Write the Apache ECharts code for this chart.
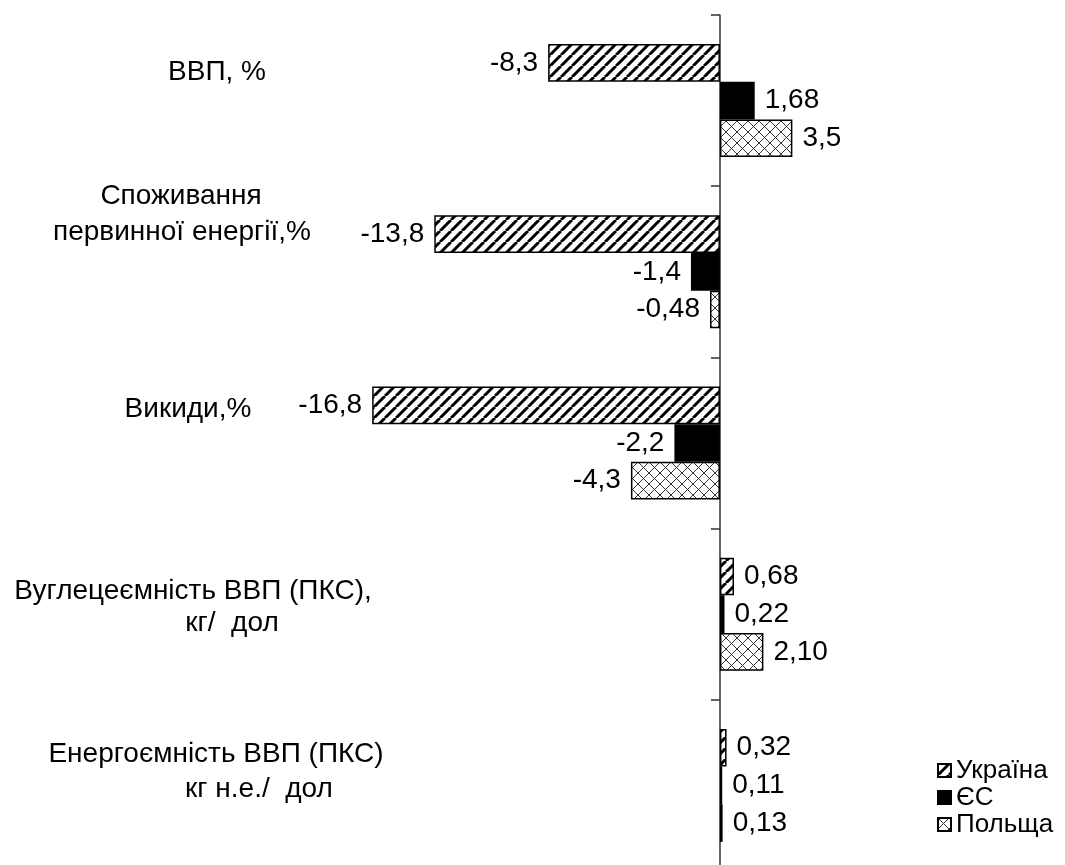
<!DOCTYPE html>
<html>
<head>
<meta charset="utf-8">
<script src="https://cdn.jsdelivr.net/npm/echarts@6/dist/echarts.min.js"></script>
<style>
  html, body { margin: 0; padding: 0; background: #fff; }
  #chart { width: 1065px; height: 865px; }
</style>
</head>
<body>
<div id="chart"></div>
<script>
// Indicator groups (top to bottom) and the three compared economies
const categories = [
  'ВВП, %',
  'Споживання\nпервинної енергії,%',
  'Викиди,%',
  'Вуглецеємність ВВП (ПКС),\nкг/  дол',
  'Енергоємність ВВП (ПКС)\nкг н.е./  дол'
];
const seriesNames = ['Україна', 'ЄС', 'Польща'];

// Values as printed on the bars (decimal comma)
const ukraineValues = ['-8,3', '-13,8', '-16,8', '0,68', '0,32'];
const euValues      = ['1,68', '-1,4', '-2,2', '0,22', '0,11'];
const polandValues  = ['3,5', '-0,48', '-4,3', '2,10', '0,13'];

const FONT = "'Liberation Sans', Arial, sans-serif";
const toNumber = s => parseFloat(s.replace(',', '.'));

// Category caption placement: horizontal shift of each line, upward lift, line height
const captionLineShift = [[17], [-19, -18], [-12], [-7, 32], [16, 59]];
const captionLift = [28, 58, 34, 7, 14];
const captionLineHeight = [34, 36, 34, 32, 35];

// Fill patterns
function stripePattern(period, width, color) {
  const c = document.createElement('canvas');
  c.width = c.height = period;
  const ctx = c.getContext('2d');
  ctx.fillStyle = '#fff';
  ctx.fillRect(0, 0, period, period);
  ctx.strokeStyle = color;
  ctx.lineWidth = width;
  ctx.beginPath();
  for (let k = -1; k <= 1; k++) {
    ctx.moveTo(k * period, period);
    ctx.lineTo(k * period + period, 0);
  }
  ctx.stroke();
  return { image: c, repeat: 'repeat' };
}
function crossPattern(period, width, color) {
  const c = document.createElement('canvas');
  c.width = c.height = period;
  const ctx = c.getContext('2d');
  ctx.fillStyle = '#fff';
  ctx.fillRect(0, 0, period, period);
  ctx.strokeStyle = color;
  ctx.lineWidth = width;
  ctx.beginPath();
  for (let k = -1; k <= 1; k++) {
    ctx.moveTo(k * period, period);
    ctx.lineTo(k * period + period, 0);
    ctx.moveTo(k * period, 0);
    ctx.lineTo(k * period + period, period);
  }
  ctx.stroke();
  return { image: c, repeat: 'repeat' };
}

const labelSets = [ukraineValues, euValues, polandValues];
const fills = [stripePattern(11, 3, '#000'), '#000', crossPattern(11, 1, '#333')];

function barData(labels) {
  return labels.map(s => {
    const v = toNumber(s);
    return { value: v, label: { position: v < 0 ? 'left' : 'right' } };
  });
}

const captionRich = {};
categories.forEach((cat, i) => {
  cat.split('\n').forEach((line, j) => {
    const dx = captionLineShift[i][j] || 0;
    captionRich['c' + i + 'l' + j] = {
      fontSize: 28,
      fontFamily: FONT,
      color: '#000',
      lineHeight: captionLineHeight[i],
      padding: dx >= 0 ? [0, 0, 0, 2 * dx] : [0, -2 * dx, 0, 0]
    };
  });
});

const captionItems = categories.map((cat, i) => ({
  value: cat,
  textStyle: {
    align: 'center',
    verticalAlign: 'middle',
    padding: [0, 0, 2 * captionLift[i], 0]
  }
}));

const chart = echarts.init(document.getElementById('chart'));
chart.setOption({
  animation: false,
  backgroundColor: '#fff',
  grid: { left: 0, right: 0, top: 15, bottom: -6, containLabel: false, outerBoundsMode: 'none' },
  legend: {
    data: seriesNames,
    orient: 'vertical',
    left: 937,
    top: 757,
    padding: 0,
    itemGap: 0,
    itemWidth: 13,
    itemHeight: 13,
    icon: 'rect',
    textStyle: { fontSize: 26, lineHeight: 27, fontFamily: FONT, color: '#000' }
  },
  xAxis: { type: 'value', min: -34.78, max: 16.67, show: false },
  yAxis: [
    {
      type: 'category',
      data: categories,
      inverse: true,
      axisLine: { show: true, onZero: true, lineStyle: { color: '#333', width: 1.5 } },
      axisTick: { show: true, length: 9, lineStyle: { color: '#333', width: 1.5 } },
      axisLabel: { show: false },
      splitLine: { show: false }
    },
    {
      type: 'category',
      data: captionItems,
      inverse: true,
      position: 'left',
      offset: -200,
      axisLine: { show: false, onZero: false },
      axisTick: { show: false },
      splitLine: { show: false },
      axisLabel: {
        show: true,
        interval: 0,
        margin: 0,
        align: 'center',
        verticalAlign: 'middle',
        fontSize: 28,
        fontFamily: FONT,
        color: '#000',
        formatter: (value, index) =>
          value.split('\n').map((line, j) => '{c' + index + 'l' + j + '|' + line + '}').join('\n'),
        rich: captionRich
      }
    }
  ],
  series: seriesNames.map((name, s) => ({
    name,
    type: 'bar',
    yAxisIndex: 0,
    barGap: '0%',
    barCategoryGap: '34%',
    data: barData(labelSets[s]),
    itemStyle: { color: fills[s], borderColor: '#000', borderWidth: 1.5 },
    label: {
      show: true,
      distance: 10,
      fontSize: 28,
      fontFamily: FONT,
      color: '#000',
      formatter: p => labelSets[p.seriesIndex][p.dataIndex]
    }
  }))
});
</script>
</body>
</html>
